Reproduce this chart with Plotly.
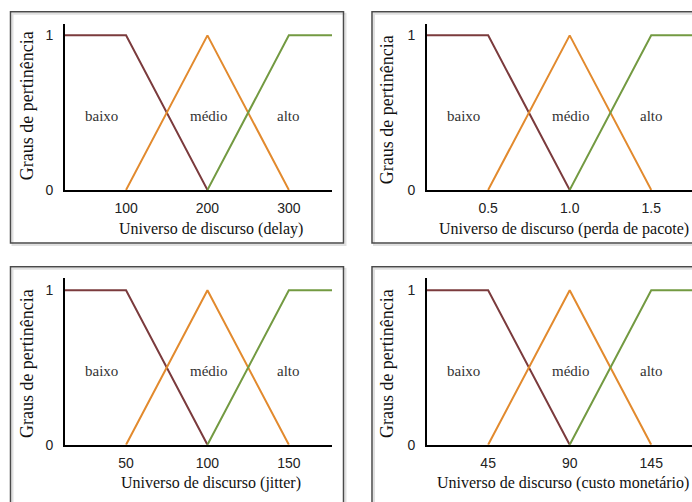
import plotly.graph_objects as go

# ---------------- data ----------------
tick_pos = [1, 2, 3]
delay_ticks = ["100", "200", "300"]
perda_ticks = ["0.5", "1.0", "1.5"]
jitter_ticks = ["50", "100", "150"]
custo_ticks = ["45", "90", "145"]

x_start = 0.25
x_end = 3.55

baixo_x = [x_start, 1, 2]
baixo_y = [1, 1, 0]
medio_x = [1, 2, 3]
medio_y = [0, 1, 0]
alto_x = [2, 3, x_end]
alto_y = [0, 1, 1]

set_names = ["baixo", "médio", "alto"]
titles = [
    "Universo de discurso (delay)",
    "Universo de discurso (perda de pacote)",
    "Universo de discurso (jitter)",
    "Universo de discurso (custo monetário)",
]
y_title = "Graus de pertinência"

# ---------------- layout helpers ----------------
W, H = 692, 502
def px(x):
    return x / W
def py(y):
    return 1 - y / H

colors = ["#7b3b3d", "#e28a2e", "#739a42"]
serif = "Liberation Serif, Times New Roman, serif"
sans = "Liberation Sans, Arial, sans-serif"

panels = [
    dict(xd=(65, 332), yd=(24, 193), rng=(0.25, 3.53), box=(10.5, 12, 343.5, 247),
         ticks=delay_ticks, xt=(211, 233), yt=(27, 108)),
    dict(xd=(427, 692), yd=(24, 193), rng=(0.25, 3.5), box=(372, 12, 720, 247),
         ticks=perda_ticks, xt=(564, 233), yt=(387, 112)),
    dict(xd=(65, 332), yd=(283, 452), rng=(0.25, 3.53), box=(10.5, 271, 343.5, 530),
         ticks=jitter_ticks, xt=(211, 491), yt=(27, 370)),
    dict(xd=(427, 692), yd=(283, 452), rng=(0.25, 3.5), box=(372, 271, 720, 530),
         ticks=custo_ticks, xt=(563, 491), yt=(387, 370)),
]

fig = go.Figure()
layout = dict(
    width=W, height=H, margin=dict(l=0, r=0, t=0, b=0),
    paper_bgcolor="white", plot_bgcolor="white", showlegend=False,
)
shapes = []
annotations = []
label_x = [0.7, 2.02, 3.0]
label_y = 0.48

for i, p in enumerate(panels):
    n = "" if i == 0 else str(i + 1)
    xa, ya = "x" + n, "y" + n
    for (xs, ys), c, name in zip([(baixo_x, baixo_y), (medio_x, medio_y), (alto_x, alto_y)], colors, set_names):
        fig.add_trace(go.Scatter(x=xs, y=ys, mode="lines", line=dict(color=c, width=2),
                                 xaxis=xa, yaxis=ya, name=name, hoverinfo="skip"))
    layout["xaxis" + n] = dict(
        domain=[px(p["xd"][0]), px(p["xd"][1])], range=list(p["rng"]), anchor=ya,
        tickvals=tick_pos, ticktext=p["ticks"], showgrid=False, zeroline=False,
        showline=True, linecolor="black", linewidth=2,
        ticks="outside", ticklen=4, tickcolor="rgba(0,0,0,0)",
        tickfont=dict(family=sans, size=14, color="#222"), fixedrange=True,
    )
    layout["yaxis" + n] = dict(
        domain=[py(p["yd"][1]), py(p["yd"][0])], range=[0, 1.076], anchor=xa,
        tickvals=[0, 1], ticktext=["0", "1"], showgrid=False, zeroline=False,
        showline=True, linecolor="black", linewidth=2,
        ticks="outside", ticklen=7, tickcolor="rgba(0,0,0,0)",
        tickfont=dict(family=sans, size=14, color="#222"), fixedrange=True,
    )
    x0, y0, x1, y1 = p["box"]
    shapes.append(dict(type="rect", xref="paper", yref="paper",
                       x0=px(x0 + 2), x1=px(x1 + 2), y0=py(y1 + 2), y1=py(y0 + 2),
                       line=dict(color="rgba(0,0,0,0.12)", width=2), layer="below"))
    shapes.append(dict(type="rect", xref="paper", yref="paper",
                       x0=px(x0), x1=px(x1), y0=py(y1), y1=py(y0),
                       line=dict(color="#4a4a4a", width=1.5), layer="below"))
    for lx, name in zip(label_x, set_names):
        annotations.append(dict(x=lx, y=label_y, xref=xa, yref=ya, text=name, showarrow=False,
                                xanchor="center", yanchor="middle",
                                font=dict(family=serif, size=15, color="#333")))
    annotations.append(dict(x=px(p["xt"][0]), y=py(p["xt"][1]), xref="paper", yref="paper",
                            text=titles[i], showarrow=False, xanchor="center", yanchor="middle",
                            font=dict(family=serif, size=16, color="#111")))
    annotations.append(dict(x=px(p["yt"][0]), y=py(p["yt"][1]), xref="paper", yref="paper",
                            text=y_title, showarrow=False, textangle=-90,
                            xanchor="center", yanchor="middle",
                            font=dict(family=serif, size=18, color="#111")))

layout["shapes"] = shapes
layout["annotations"] = annotations
fig.update_layout(**layout)
fig.write_html("out.html", config={"displayModeBar": False},
               post_script="document.body.style.margin='0';document.body.style.padding='0';")
